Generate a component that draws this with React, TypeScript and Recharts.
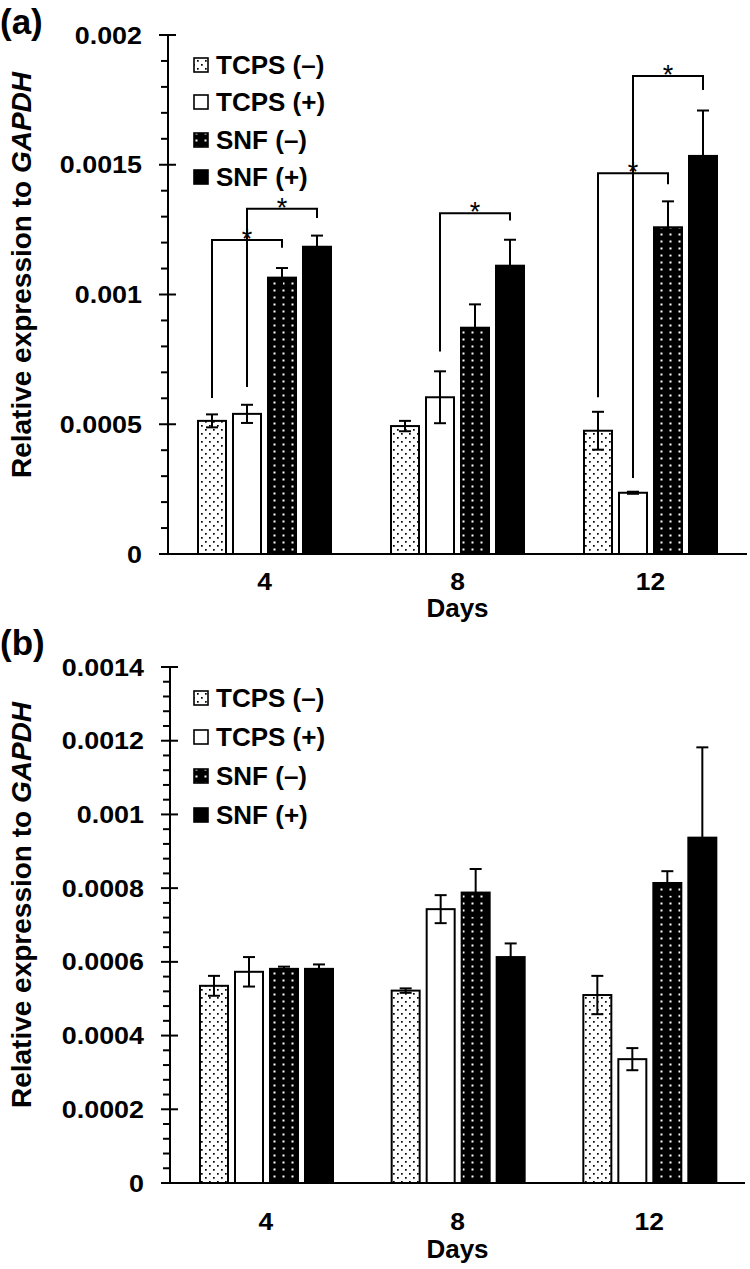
import React from 'react';
import { BarChart, Bar, XAxis, YAxis, ErrorBar, Legend, Label } from 'recharts';

const FONT = '"Liberation Sans", Arial, Helvetica, sans-serif';

// ---------- data ----------
const days = ['4', '8', '12'];
const seriesNames = ['TCPS (\u2013)', 'TCPS (+)', 'SNF (\u2013)', 'SNF (+)'];

// Panel (a)
const aTcpsMinus = [0.000513, 0.000493, 0.000475];
const aTcpsMinusErr = [0.000025, 0.00002, 0.000073];
const aTcpsPlus = [0.00054, 0.000604, 0.000236];
const aTcpsPlusErr = [0.000035, 0.0001, 0.000004];
const aSnfMinus = [0.001065, 0.000872, 0.001259];
const aSnfMinusErr = [0.000037, 0.00009, 0.0001];
const aSnfPlus = [0.001184, 0.001111, 0.001534];
const aSnfPlusErr = [0.000043, 0.0001, 0.000175];

// Panel (b)
const bTcpsMinus = [0.000535, 0.000522, 0.00051];
const bTcpsMinusErr = [0.000027, 0.000006, 0.000052];
const bTcpsPlus = [0.000573, 0.000743, 0.000336];
const bTcpsPlusErr = [0.00004, 0.000038, 0.00003];
const bSnfMinus = [0.000581, 0.000788, 0.000814];
const bSnfMinusErr = [0.000006, 0.000064, 0.000032];
const bSnfPlus = [0.000581, 0.000613, 0.000937];
const bSnfPlusErr = [0.000012, 0.000037, 0.000245];

// Significance brackets (panel a): from series index -> to series index
const aBrackets = [
  { day: '4', from: 0, to: 2, leftBottom: 0.000601, top: 0.00121, rightBottom: 0.00118 },
  { day: '4', from: 1, to: 3, leftBottom: 0.000644, top: 0.00133, rightBottom: 0.001295 },
  { day: '8', from: 1, to: 3, leftBottom: 0.00078, top: 0.001313, rightBottom: 0.001285 },
  { day: '12', from: 0, to: 2, leftBottom: 0.000604, top: 0.001467, rightBottom: 0.001425 },
  { day: '12', from: 1, to: 3, leftBottom: 0.000293, top: 0.001842, rightBottom: 0.001788 },
];

// Axis ticks
const aMajorTicks = [0, 0.0005, 0.001, 0.0015, 0.002];
const aMajorLabels = ['0', '0.0005', '0.001', '0.0015', '0.002'];
const aMinorStep = 0.0001;
const bMajorTicks = [0, 0.0002, 0.0004, 0.0006, 0.0008, 0.001, 0.0012, 0.0014];
const bMajorLabels = ['0', '0.0002', '0.0004', '0.0006', '0.0008', '0.001', '0.0012', '0.0014'];
const bMinorStep = 0.00004;

// ---------- helpers ----------
const buildRows = (tm, tmE, tp, tpE, sm, smE, sp, spE) =>
  days.map((d, i) => ({
    day: d,
    tm: tm[i], tmErr: tmE[i],
    tp: tp[i], tpErr: tpE[i],
    sm: sm[i], smErr: smE[i],
    sp: sp[i], spErr: spE[i],
  }));

const aRows = buildRows(aTcpsMinus, aTcpsMinusErr, aTcpsPlus, aTcpsPlusErr, aSnfMinus, aSnfMinusErr, aSnfPlus, aSnfPlusErr);
const bRows = buildRows(bTcpsMinus, bTcpsMinusErr, bTcpsPlus, bTcpsPlusErr, bSnfMinus, bSnfMinusErr, bSnfPlus, bSnfPlusErr);

const seriesKeys = ['tm', 'tp', 'sm', 'sp'];
const seriesFills = ['url(#dotsLight)', '#ffffff', 'url(#dotsDark)', '#000000'];

const buildTicks = (max, step) => {
  const out = [];
  const n = Math.round(max / step);
  for (let i = 0; i <= n; i++) out.push(Number((i * step).toFixed(8)));
  return out;
};

const BAR_GAP = 7;

const makeShape = (seriesIdx, key, brackets) => (p) => {
  const { x, y, width, height, fill, payload } = p;
  const v = payload[key];
  const base = y + height;
  const k = v ? height / v : 0;
  const toY = (val) => base - val * k;
  const br = brackets.filter((b) => b.day === payload.day && b.from === seriesIdx);
  return (
    <g>
      <rect x={x} y={y} width={width} height={height} fill={fill} stroke="#000" strokeWidth={2} />
      {br.map((b, i) => {
        const x1 = x + width / 2;
        const x2 = x1 + (b.to - b.from) * (width + BAR_GAP);
        const yl = toY(b.leftBottom);
        const yt = toY(b.top);
        const yr = toY(b.rightBottom);
        return (
          <g key={i}>
            <polyline
              points={`${x1},${yl} ${x1},${yt} ${x2},${yt} ${x2},${yr}`}
              fill="none"
              stroke="#000"
              strokeWidth={2}
            />
            <text x={(x1 + x2) / 2} y={yt + 8} textAnchor="middle" fontSize={27} fontFamily={FONT} fill="#000">
              *
            </text>
          </g>
        );
      })}
    </g>
  );
};

const YTick = ({ x, y, payload, majors, labels }) => {
  const v = payload.value;
  const mi = majors.findIndex((m) => Math.abs(m - v) < 1e-9);
  if (mi < 0) {
    return <line x1={x - 7} x2={x} y1={y} y2={y} stroke="#000" strokeWidth={2} />;
  }
  return (
    <g>
      <line x1={x - 9} x2={x + 8} y1={y} y2={y} stroke="#000" strokeWidth={2} />
      <text
        transform={`translate(${x - 26},${y + 8.5}) scale(1.12,1)`}
        textAnchor="end"
        fontSize={24}
        fontWeight="bold"
        fontFamily={FONT}
        fill="#000"
      >
        {labels[mi]}
      </text>
    </g>
  );
};

const XTick = ({ x, y, payload, dy }) => (
  <text
    transform={`translate(${x},${y + dy}) scale(1.1,1)`}
    textAnchor="middle"
    fontSize={24}
    fontWeight="bold"
    fontFamily={FONT}
    fill="#000"
  >
    {payload.value}
  </text>
);

const LegendBox = ({ rowH }) => (
  <div style={{ fontFamily: FONT, fontWeight: 'bold', fontSize: 26, color: '#000', lineHeight: '28px' }}>
    {seriesNames.map((name, i) => (
      <div key={name} style={{ height: rowH, display: 'flex', alignItems: 'center' }}>
        <svg width={20} height={20} style={{ marginRight: 4 }}>
          <rect x={2} y={3} width={14} height={14} fill={seriesFills[i]} stroke="#000" strokeWidth={1.6} />
        </svg>
        <span>{name}</span>
      </div>
    ))}
  </div>
);

const Panel = ({ rows, max, majors, labels, minorStep, brackets, top, height, marginTop, marginRight, yWidth, xHeight, tickDy, daysDy, legendTop, legendLeft, rowH }) => {
  const ticks = buildTicks(max, minorStep);
  return (
    <div style={{ position: 'absolute', left: 0, top }}>
      <BarChart
        width={750}
        height={height}
        data={rows}
        margin={{ top: marginTop, right: marginRight, left: 0, bottom: 0 }}
        barCategoryGap={30}
        barGap={BAR_GAP}
      >
        <XAxis
          dataKey="day"
          tickLine={false}
          tickSize={0}
          tickMargin={0}
          height={xHeight}
          axisLine={{ stroke: '#000', strokeWidth: 2 }}
          tick={(p) => <XTick {...p} dy={tickDy} />}
          interval={0}
        >
          <Label
            content={({ viewBox }) => (
              <text
                x={viewBox.x + viewBox.width / 2}
                y={viewBox.y + daysDy}
                textAnchor="middle"
                fontSize={26}
                fontWeight="bold"
                fontFamily={FONT}
                fill="#000"
              >
                Days
              </text>
            )}
          />
        </XAxis>
        <XAxis xAxisId="top" dataKey="day" orientation="top" height={0} tick={false} tickLine={false} axisLine={{ stroke: '#000', strokeWidth: 2 }} />
        <YAxis
          type="number"
          domain={[0, max]}
          ticks={ticks}
          interval={0}
          width={yWidth}
          tickLine={false}
          tickSize={0}
          tickMargin={0}
          axisLine={{ stroke: '#000', strokeWidth: 2 }}
          tick={(p) => <YTick {...p} majors={majors} labels={labels} />}
        />
        <YAxis yAxisId="right" orientation="right" width={0} domain={[0, max]} tick={false} tickLine={false} axisLine={{ stroke: '#000', strokeWidth: 2 }} />
        <Legend
          layout="vertical"
          align="center"
          verticalAlign="middle"
          wrapperStyle={{ position: 'absolute', left: legendLeft, top: legendTop, width: 180, height: rowH * 4 }}
          content={() => <LegendBox rowH={rowH} />}
        />
        {seriesKeys.map((key, i) => (
          <Bar
            key={key}
            dataKey={key}
            name={seriesNames[i]}
            fill={seriesFills[i]}
            isAnimationActive={false}
            shape={makeShape(i, key, brackets)}
          >
            <ErrorBar dataKey={key + 'Err'} width={6} strokeWidth={2} stroke="#000" direction="y" isAnimationActive={false} />
          </Bar>
        ))}
      </BarChart>
    </div>
  );
};

export default function App() {
  return (
    <div style={{ position: 'absolute', left: 0, top: 0, width: 750, height: 1269, background: '#fff' }}>
      <svg width={0} height={0} style={{ position: 'absolute' }}>
        <defs>
          <pattern id="dotsLight" patternUnits="userSpaceOnUse" width="8" height="8">
            <rect width="8" height="8" fill="#fff" />
            <rect x="1" y="1" width="1.7" height="1.7" fill="#000" />
            <rect x="5" y="5" width="1.7" height="1.7" fill="#000" />
          </pattern>
          <pattern id="dotsDark" patternUnits="userSpaceOnUse" width="9" height="7">
            <rect width="9" height="7" fill="#000" />
            <rect x="3.5" y="2.5" width="2" height="2" fill="#fff" />
          </pattern>
        </defs>
      </svg>
      <Panel
        rows={bRows}
        max={0.0014}
        majors={bMajorTicks}
        labels={bMajorLabels}
        minorStep={bMinorStep}
        brackets={[]}
        top={620}
        height={649}
        marginTop={47}
        marginRight={5}
        yWidth={170}
        xHeight={86}
        tickDy={47}
        daysDy={75}
        legendTop={58}
        legendLeft={192}
        rowH={39}
      />
      <Panel
        rows={aRows}
        max={0.002}
        majors={aMajorTicks}
        labels={aMajorLabels}
        minorStep={aMinorStep}
        brackets={aBrackets}
        top={0}
        height={630}
        marginTop={35}
        marginRight={3}
        yWidth={168}
        xHeight={76}
        tickDy={36}
        daysDy={63}
        legendTop={46}
        legendLeft={192}
        rowH={37.5}
      />
      <svg width={750} height={1269} style={{ position: 'absolute', left: 0, top: 0, pointerEvents: 'none' }}>
        <text x={0} y={34} fontSize={35} fontWeight="bold" fontFamily={FONT} fill="#000">(a)</text>
        <text x={0} y={655} fontSize={35} fontWeight="bold" fontFamily={FONT} fill="#000">(b)</text>
        <text transform="translate(31,275) rotate(-90)" textAnchor="middle" fontSize={28} fontWeight="bold" fontFamily={FONT} fill="#000">
          Relative expression to <tspan fontStyle="italic">GAPDH</tspan>
        </text>
        <text transform="translate(31,905) rotate(-90)" textAnchor="middle" fontSize={28} fontWeight="bold" fontFamily={FONT} fill="#000">
          Relative expression to <tspan fontStyle="italic">GAPDH</tspan>
        </text>
      </svg>
    </div>
  );
}
